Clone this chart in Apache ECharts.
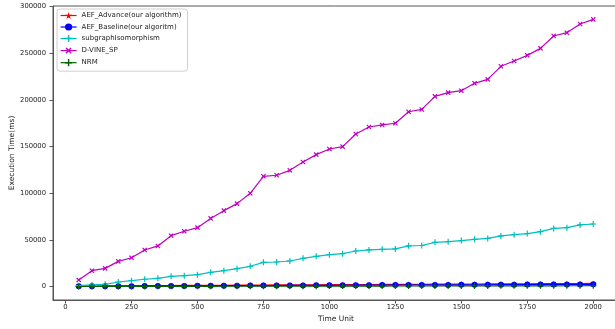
<!DOCTYPE html>
<html>
<head>
<meta charset="utf-8">
<script src="https://cdn.jsdelivr.net/npm/echarts@6/dist/echarts.min.js"></script>
<style>
  html, body { margin: 0; padding: 0; background: #fff; }
  #chart { width: 615px; height: 329px; }
</style>
</head>
<body>
<div id="chart"></div>
<script>
// Time units sampled every 50 from 50 to 2000
const timeUnits = [
  50, 100, 150, 200, 250, 300, 350, 400, 450, 500,
  550, 600, 650, 700, 750, 800, 850, 900, 950, 1000,
  1050, 1100, 1150, 1200, 1250, 1300, 1350, 1400, 1450, 1500,
  1550, 1600, 1650, 1700, 1750, 1800, 1850, 1900, 1950, 2000
];

// Execution time (ms) per algorithm
const aefAdvance = [
  600, 700, 780, 850, 950, 1030, 1100, 1200, 1280, 1350,
  1430, 1500, 1580, 1660, 1740, 1800, 1880, 1960, 2030, 2100,
  2170, 2240, 2300, 2380, 2440, 2510, 2580, 2640, 2700, 2770,
  2830, 2890, 2950, 3010, 3080, 3140, 3200, 3260, 3330, 3400
];
const aefBaseline = [
  300, 350, 420, 480, 550, 600, 680, 740, 800, 870,
  930, 990, 1050, 1100, 1160, 1220, 1280, 1330, 1390, 1440,
  1500, 1550, 1600, 1650, 1700, 1760, 1800, 1850, 1900, 1950,
  2000, 2050, 2100, 2150, 2200, 2250, 2300, 2350, 2420, 2500
];
const subgraphIso = [
  1000, 1800, 2500, 5000, 6400, 7900, 8900, 11100, 11800, 12800,
  15300, 17100, 19300, 21800, 26000, 26400, 27500, 30300, 32500, 34300,
  35300, 38200, 39300, 40000, 40400, 43700, 44100, 47500, 48200, 49300,
  50700, 51700, 54300, 55700, 56800, 58900, 62400, 63200, 66100, 67100
];
const dVineSP = [
  7200, 17100, 19600, 27100, 31000, 39300, 43600, 54600, 59300, 63200,
  73100, 81400, 88900, 100000, 118200, 119300, 124600, 133500, 141400, 147400,
  150000, 163500, 171000, 173200, 175000, 187300, 189800, 203800, 207800, 209900,
  217800, 222000, 236000, 241700, 247700, 255200, 268500, 272000, 281300, 286300
];
const nrm = [
  150, 180, 200, 230, 250, 280, 300, 320, 350, 370,
  390, 420, 440, 460, 480, 500, 520, 540, 560, 580,
  600, 620, 640, 660, 680, 700, 720, 740, 760, 780,
  800, 820, 840, 860, 880, 900, 920, 950, 980, 1000
];

// Tick labels
const xTicks = [0, 250, 500, 750, 1000, 1250, 1500, 1750, 2000];
const yTicks = [0, 50000, 100000, 150000, 200000, 250000, 300000];

const PLUS = 'path://M4,0H6V4H10V6H6V10H4V6H0V4H4Z';
const STAR = 'path://M50,0L61,35L98,35L68,57L79,91L50,70L21,91L32,57L2,35L39,35Z';

const pairs = vals => timeUnits.map((t, i) => [t, vals[i]]);

const font = 'DejaVu Sans';
const axisColor = '#555';
const textColor = '#222';

function lineSeries(name, vals, color, symbol, size, rotate) {
  return {
    name: name,
    type: 'line',
    data: pairs(vals),
    symbol: symbol,
    symbolSize: size,
    symbolRotate: rotate || 0,
    showAllSymbol: true,
    lineStyle: { color: color, width: 1.2 },
    itemStyle: { color: color },
    emphasis: { disabled: true }
  };
}

const chart = echarts.init(document.getElementById('chart'), null, { renderer: 'canvas' });
chart.setOption({
  animation: false,
  backgroundColor: '#fff',
  grid: {
    left: 53, top: 6, right: -4, bottom: 29,
    outerBoundsMode: 'none',
    containLabel: false,
    show: true, borderColor: axisColor, borderWidth: 1, backgroundColor: 'transparent'
  },
  legend: {
    orient: 'vertical',
    left: 57, top: 9,
    padding: [2, 6, 4, 3],
    itemWidth: 16, itemHeight: 9, itemGap: 2.5,
    borderColor: '#d0d0d0', borderWidth: 1, borderRadius: 3,
    backgroundColor: 'rgba(255,255,255,0.8)',
    itemStyle: { borderWidth: 0 },
    lineStyle: { width: 1.2 },
    textStyle: { fontFamily: font, fontSize: 7, color: textColor, lineHeight: 9 },
    data: ['AEF_Advance(our algorithm)', 'AEF_Baseline(our algoritm)', 'subgraphIsomorphism', 'D-VINE_SP', 'NRM']
  },
  xAxis: {
    type: 'value',
    min: -47.5, max: 2097.5,
    name: 'Time Unit',
    nameLocation: 'middle', nameGap: 15, nameMoveOverlap: false,
    nameTextStyle: { fontFamily: font, fontSize: 7.5, color: textColor },
    splitLine: { show: false },
    axisLine: { show: true, onZero: false, lineStyle: { color: axisColor } },
    axisTick: { show: true, length: 3.5, customValues: xTicks, lineStyle: { color: axisColor } },
    axisLabel: {
      customValues: xTicks, margin: 4, fontFamily: font, fontSize: 6.8, color: textColor,
      formatter: v => String(v)
    }
  },
  yAxis: {
    type: 'value',
    min: -14300, max: 300600,
    name: 'Execution Time(ms)',
    nameLocation: 'middle', nameGap: 37, nameRotate: 90, nameMoveOverlap: false,
    nameTextStyle: { fontFamily: font, fontSize: 7.5, color: textColor },
    splitLine: { show: false },
    axisLine: { show: true, onZero: false, lineStyle: { color: axisColor } },
    axisTick: { show: true, length: 3.5, customValues: yTicks, lineStyle: { color: axisColor } },
    axisLabel: {
      customValues: yTicks, margin: 7, fontFamily: font, fontSize: 6.8, color: textColor,
      formatter: v => String(v)
    }
  },
  series: [
    lineSeries('AEF_Advance(our algorithm)', aefAdvance, '#ff0000', STAR, 6),
    lineSeries('AEF_Baseline(our algoritm)', aefBaseline, '#0000ff', 'circle', 6),
    lineSeries('subgraphIsomorphism', subgraphIso, '#00bfbf', PLUS, 6),
    lineSeries('D-VINE_SP', dVineSP, '#bf00bf', PLUS, 6, 45),
    lineSeries('NRM', nrm, '#006400', PLUS, 6)
  ]
});
</script>
</body>
</html>
